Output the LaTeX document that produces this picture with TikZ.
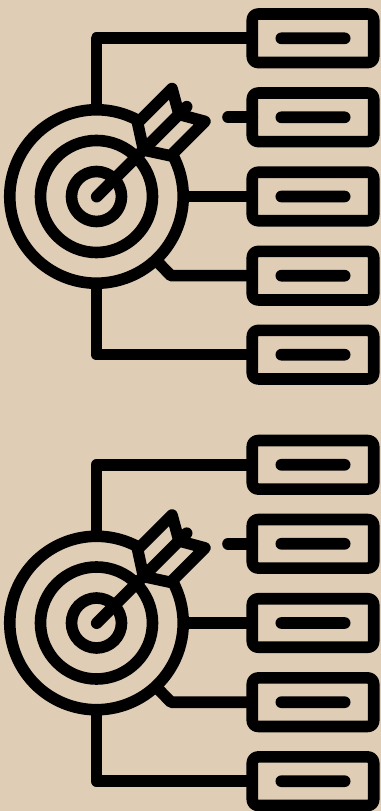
\documentclass[tikz,border=0pt]{standalone}
\usepackage{xcolor}
\usetikzlibrary{positioning}
\definecolor{ksand}{HTML}{E0CDB5}
\tikzset{
  inkline/.style={draw=black, line width=0.29cm, line join=round},
  freeline/.style={inkline, line cap=round},
  cardbox/.style={inkline, rectangle, rounded corners=0.145cm, minimum width=3.035cm, minimum height=1.2125cm, inner sep=0pt, outer sep=0pt},
  cardbar/.style={fill=black, rectangle, rounded corners=0.146cm, minimum width=1.875cm, minimum height=0.292cm, inner sep=0pt, outer sep=0pt},
  ringbig/.style={circle, minimum size=4.335cm, inner sep=0pt, outer sep=0pt},
  ringmid/.style={inkline, circle, minimum size=2.80cm, inner sep=0pt, outer sep=0pt},
  ringsmall/.style={inkline, circle, minimum size=1.25cm, inner sep=0pt, outer sep=0pt}
}

\begin{document}
\begin{tikzpicture}[x=0.025cm, y=0.025cm]
\useasboundingbox (0,0) rectangle (381,811);
\fill[ksand] (0,0) rectangle (381,811);
% upper target
\node[cardbox] (boxA1) at (313,772.7) {};
\node[cardbox] (boxA2) at (313,693.7) {};
\node[cardbox] (boxA3) at (313,614.5) {};
\node[cardbox] (boxA4) at (313,535.3) {};
\node[cardbox] (boxA5) at (313,456.3) {};
\node[cardbar] (barA1) at (boxA1.center) {};
\node[cardbar] (barA2) at (boxA2.center) {};
\node[cardbar] (barA3) at (boxA3.center) {};
\node[cardbar] (barA4) at (boxA4.center) {};
\node[cardbar] (barA5) at (boxA5.center) {};
\node[ringbig] (bigA) at (96.5,614.5) {};
\node[ringmid] (midA) at (96.5,614.5) {};
\node[ringsmall] (smallA) at (96.5,614.5) {};
\draw[inkline] (bigA.62) arc[start angle=62, end angle=388, radius=2.1675cm];
\draw[inkline] (bigA.north) |- (boxA1.west);
\draw[inkline] (bigA.east) -- (boxA3.west);
\draw[inkline] (bigA.south) |- (boxA5.west);
\coordinate (bendA) at (171,535.3);
\draw[inkline] (bigA.-47) -- (bendA) -- (boxA4.west);
\coordinate (stubA) at (228,693.7);
\draw[freeline] (stubA) -- (boxA2.west);
\coordinate (hitA) at (96.7,614.3);
\coordinate (nockA) at (186.7,704.3);
\draw[freeline] (hitA) -- (nockA);
\draw[inkline] (143.5,661) -- (137.6,688.1) -- (172,722.5) -- (179,696.6);
\draw[inkline] (143.5,661) -- (170.5,655.2) -- (204.9,689.6) -- (179,696.6);
% lower target
\node[cardbox] (boxB1) at (313,346.2) {};
\node[cardbox] (boxB2) at (313,267.2) {};
\node[cardbox] (boxB3) at (313,188) {};
\node[cardbox] (boxB4) at (313,108.8) {};
\node[cardbox] (boxB5) at (313,29.8) {};
\node[cardbar] (barB1) at (boxB1.center) {};
\node[cardbar] (barB2) at (boxB2.center) {};
\node[cardbar] (barB3) at (boxB3.center) {};
\node[cardbar] (barB4) at (boxB4.center) {};
\node[cardbar] (barB5) at (boxB5.center) {};
\node[ringbig] (bigB) at (96.5,188) {};
\node[ringmid] (midB) at (96.5,188) {};
\node[ringsmall] (smallB) at (96.5,188) {};
\draw[inkline] (bigB.62) arc[start angle=62, end angle=388, radius=2.1675cm];
\draw[inkline] (bigB.north) |- (boxB1.west);
\draw[inkline] (bigB.east) -- (boxB3.west);
\draw[inkline] (bigB.south) |- (boxB5.west);
\coordinate (bendB) at (171,108.8);
\draw[inkline] (bigB.-47) -- (bendB) -- (boxB4.west);
\coordinate (stubB) at (228,267.2);
\draw[freeline] (stubB) -- (boxB2.west);
\coordinate (hitB) at (96.7,187.8);
\coordinate (nockB) at (186.7,277.8);
\draw[freeline] (hitB) -- (nockB);
\draw[inkline] (143.5,234.5) -- (137.6,261.6) -- (172,296) -- (179,270.1);
\draw[inkline] (143.5,234.5) -- (170.5,228.7) -- (204.9,263.1) -- (179,270.1);
\end{tikzpicture}
\end{document}
